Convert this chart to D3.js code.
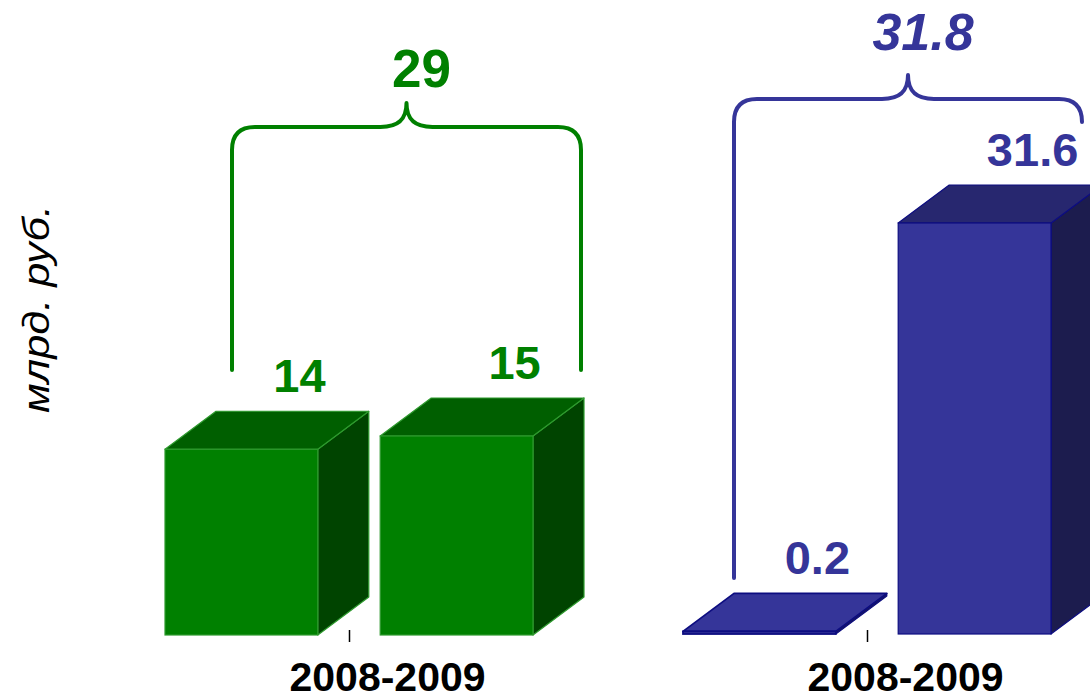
<!DOCTYPE html>
<html>
<head>
<meta charset="utf-8">
<script src="https://cdn.jsdelivr.net/npm/d3@7"></script>
<style>
  html, body { margin: 0; padding: 0; background: #fff; }
  svg { display: block; }
</style>
</head>
<body>
<svg id="chart" width="1090" height="699"></svg>
<script>
// ---- data ----
const categories = ["2008-2009", "2008-2009"];
const greenValues = [14, 15];
const blueValues = [0.2, 31.6];
const totals = ["29", "31.8"];
const yAxisTitle = "млрд. руб.";

// ---- layout / styles ----
const depthX = 51, depthY = -38;
const svg = d3.select("#chart");

const groups = [
  { values: greenValues, total: totals[0], italic: false,
    front: "#008000", top: "#005f00", side: "#004400", stroke: "#2e9a2e", text: "#008000",
    yMax: 15, yRange: [635, 436],
    bracket: { lx: 232, rx: 581, hy: 127, py: 103, lb: 370, rb: 370, r: 23 },
    totalFont: 53 },
  { values: blueValues, total: totals[1], italic: true,
    front: "#353599", top: "#27276f", side: "#1c1c4e", stroke: "#0d0d80", text: "#353599",
    yMax: 31.6, yRange: [634, 223],
    bracket: { lx: 734, rx: 1082, hy: 99, py: 75, lb: 578, rb: 122, r: 23 },
    totalFont: 52 }
];

// outer scale: group centres
const xOuter = d3.scalePoint().domain([0, 1]).range([349, 867]);
// inner scale: bars inside a group (offsets from group centre)
const xInner = d3.scaleBand().domain([0, 1]).range([-184, 184]).paddingInner(0.29).paddingOuter(0);

groups.forEach((g, gi) => {
  const y = d3.scaleLinear().domain([0, g.yMax]).range(g.yRange);
  const cx = xOuter(gi);
  const layer = svg.append("g");

  g.values.forEach((v, i) => {
    const x0 = cx + xInner(i);
    const x1 = x0 + xInner.bandwidth();
    const yT = y(v), yB = y(0);
    const flat = (yB - yT) < 6;
    const bar = layer.append("g");
    // side
    bar.append("polygon")
      .attr("points", [[x1, yT], [x1 + depthX, yT + depthY], [x1 + depthX, yB + depthY], [x1, yB]].map(p => p.join(",")).join(" "))
      .attr("fill", g.side).attr("stroke", g.stroke).attr("stroke-width", 1.2).attr("stroke-linejoin", "round");
    // top
    bar.append("polygon")
      .attr("points", [[x0, yT], [x0 + depthX, yT + depthY], [x1 + depthX, yT + depthY], [x1, yT]].map(p => p.join(",")).join(" "))
      .attr("fill", flat ? g.front : g.top).attr("stroke", g.stroke).attr("stroke-width", flat ? 1.8 : 1.2).attr("stroke-linejoin", "round");
    // front
    bar.append("rect")
      .attr("x", x0).attr("y", yT).attr("width", x1 - x0).attr("height", Math.max(yB - yT, 0.5))
      .attr("fill", g.front).attr("stroke", g.stroke).attr("stroke-width", flat ? 1.8 : 1.2);
    // value label
    layer.append("text")
      .attr("x", (x0 + x1) / 2 + depthX + 7)
      .attr("y", yT + depthY - 19)
      .attr("text-anchor", "middle")
      .attr("font-family", "Liberation Sans, Arial, sans-serif")
      .attr("font-weight", "bold")
      .attr("font-size", 47)
      .attr("fill", g.text)
      .text(String(v));
  });

  // bracket
  const b = g.bracket;
  const bc = (b.lx + b.rx) / 2;
  const p = d3.path();
  p.moveTo(b.lx, b.lb);
  p.lineTo(b.lx, b.hy + b.r);
  p.quadraticCurveTo(b.lx, b.hy, b.lx + b.r, b.hy);
  p.lineTo(bc - 26, b.hy);
  p.bezierCurveTo(bc - 8, b.hy, bc, b.hy - 8, bc, b.py);
  p.bezierCurveTo(bc, b.hy - 8, bc + 8, b.hy, bc + 26, b.hy);
  p.lineTo(b.rx - b.r, b.hy);
  p.quadraticCurveTo(b.rx, b.hy, b.rx, b.hy + b.r);
  p.lineTo(b.rx, b.rb);
  layer.append("path").attr("d", p.toString())
    .attr("fill", "none").attr("stroke", g.text).attr("stroke-width", 4)
    .attr("stroke-linecap", "round").attr("stroke-linejoin", "round");

  // total label
  layer.append("text")
    .attr("x", bc + 15)
    .attr("y", b.py - 16 - (g.italic ? 9 : 0))
    .attr("text-anchor", "middle")
    .attr("font-family", "Liberation Sans, Arial, sans-serif")
    .attr("font-weight", "bold")
    .attr("font-style", g.italic ? "italic" : "normal")
    .attr("font-size", g.totalFont)
    .attr("fill", g.text)
    .text(g.total);
});

// x axis (ticks only, no domain line)
const axis = d3.axisBottom(xOuter).tickSize(12).tickPadding(0).tickFormat(i => categories[i]);
const ax = svg.append("g").attr("transform", "translate(0,630)").call(axis);
ax.select(".domain").remove();
ax.selectAll(".tick line").attr("stroke", "#000").attr("stroke-width", 1.5);
ax.selectAll(".tick text")
  .attr("x", 38).attr("y", 61).attr("dy", 0)
  .attr("fill", "#000")
  .attr("font-family", "Liberation Sans, Arial, sans-serif")
  .attr("font-weight", "bold")
  .attr("font-size", 41);

// y axis title
svg.append("text")
  .attr("transform", "translate(49,309) rotate(-90)")
  .attr("text-anchor", "middle")
  .attr("font-family", "Liberation Sans, Arial, sans-serif")
  .attr("font-style", "italic")
  .attr("font-size", 37)
  .attr("textLength", 208)
  .attr("lengthAdjust", "spacingAndGlyphs")
  .attr("fill", "#000")
  .text(yAxisTitle);
</script>
</body>
</html>
